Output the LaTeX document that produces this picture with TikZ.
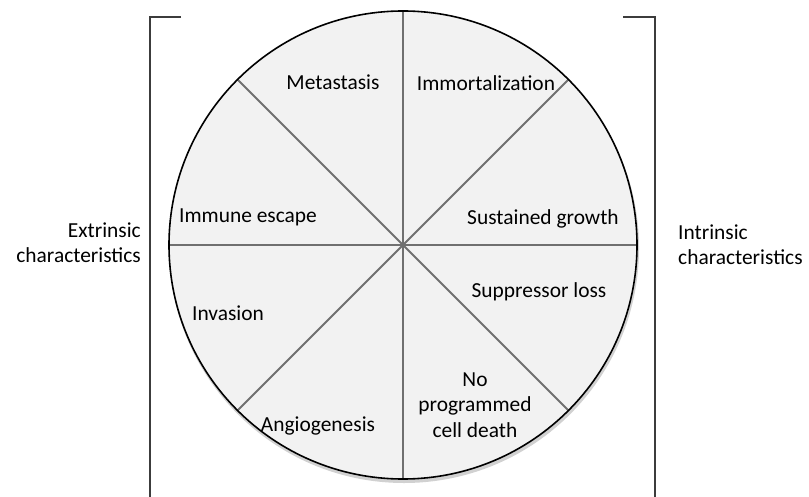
\documentclass[tikz,border=0pt]{standalone}
\usepackage{fontspec}
\setmainfont{Carlito}
\usetikzlibrary{positioning,calc}
\definecolor{wedge}{RGB}{242,242,242}
\definecolor{spoke}{RGB}{112,112,112}
\definecolor{bracket}{RGB}{60,60,60}

\begin{document}
\begin{tikzpicture}[
  x=1bp,y=-1bp,
  sector/.style={font=\fontsize{21.5}{25.5}\selectfont,align=center,inner sep=0pt},
  side/.style={font=\fontsize{21.5}{25.5}\selectfont,inner sep=0pt},
  rim/.style={draw=black,line width=1.6bp},
  divider/.style={draw=spoke,line width=1.8bp},
  bar/.style={draw=bracket,line width=1.4bp},
]
\useasboundingbox (0,0) rectangle (809,497);
\coordinate (c) at (403,245);

% wheel
\fill[black,opacity=0.18] ($(c)+(1,3)$) circle[radius=235bp];
\fill[wedge] (c) circle[radius=234bp];
\foreach \a in {0,45,...,315}
  \draw[divider] (c) -- ++(\a:234bp);
\draw[rim] (c) circle[radius=234bp];

% sector texts
\node[sector] (metastasis) at (333,82) {Metastasis};
\node[sector] (immortal) at (486,83) {Immortalization};
\node[sector] (immune) at (248,217) {Immune escape};
\node[sector] (growth) at (543,219) {Sustained growth};
\node[sector] (invasion) at (228,313) {Invasion};
\node[sector] (suppressor) at (539,292) {Suppressor loss};
\node[sector] (angio) at (318,426) {Angiogenesis};
\node[sector] (nodeath) at (475,405) {No\\programmed\\cell death};

% brackets
\coordinate (lt) at (181,17);
\coordinate (lc) at (150,17);
\coordinate (lb) at (150,497);
\coordinate (rt) at (623,17);
\coordinate (rc) at (655,17);
\coordinate (rb) at (655,497);
\draw[bar] (lt) -- (lc) -- (lb);
\draw[bar] (rt) -- (rc) -- (rb);

\node[side,align=right,anchor=east] (extrinsic) at (141,243) {Extrinsic\\characteristics};
\node[side,align=left,anchor=west] (intrinsic) at (678,245) {Intrinsic\\characteristics};
\end{tikzpicture}
\end{document}
